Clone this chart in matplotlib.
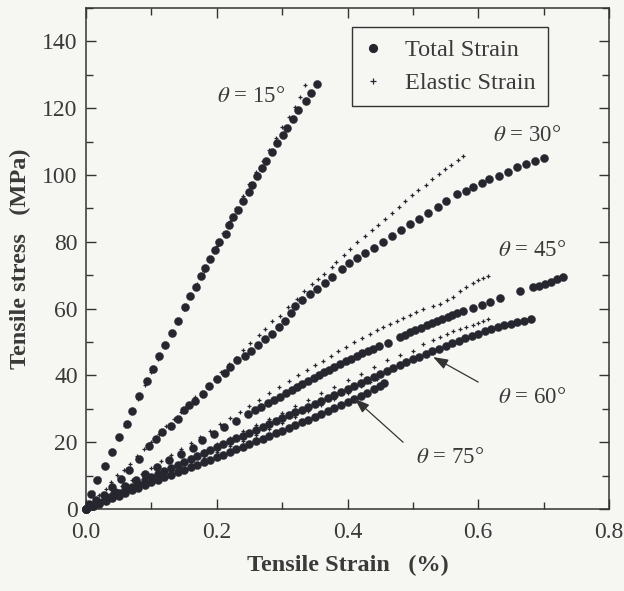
import matplotlib
matplotlib.use("Agg")
import matplotlib.pyplot as plt
from matplotlib.ticker import MultipleLocator, FormatStrFormatter
from matplotlib.lines import Line2D

# ---------------- data ----------------
t15_x = [0.0, 0.004, 0.0075, 0.0173, 0.0286, 0.040, 0.0505, 0.062, 0.071, 0.0816,
         0.0929, 0.103, 0.112, 0.121, 0.132, 0.140, 0.1515, 0.159, 0.168, 0.1755,
         0.182, 0.190, 0.197, 0.2035, 0.2135, 0.2185, 0.2255, 0.232, 0.2405, 0.249,
         0.254, 0.262, 0.269, 0.275, 0.2843, 0.2928, 0.301, 0.3068, 0.3163, 0.3237,
         0.336, 0.3445, 0.353]
t15_y = [0.0, 1.5, 4.6, 8.6, 12.9, 17.0, 21.5, 25.3, 29.3, 33.8,
         38.2, 42.0, 45.8, 49.0, 52.8, 56.3, 60.5, 63.8, 66.5, 69.8,
         72.2, 74.9, 77.4, 79.9, 82.2, 84.9, 87.4, 89.6, 92.1, 94.9,
         97.1, 99.7, 102.2, 104.2, 106.9, 109.7, 112.0, 114.0, 116.9, 119.4,
         122.2, 124.6, 127.1]
e15_x = [0.0, 0.01, 0.02, 0.03, 0.04, 0.05, 0.06, 0.07, 0.08, 0.09,
         0.10, 0.11, 0.12, 0.13, 0.14, 0.15, 0.16, 0.17, 0.18, 0.19,
         0.20, 0.21, 0.22, 0.23, 0.24, 0.25, 0.26, 0.27, 0.28, 0.29,
         0.30, 0.31, 0.32, 0.328, 0.335]
e15_y = [0.0, 5.0, 9.3, 13.2, 17.2, 21.1, 25.0, 29.0, 33.0, 37.0,
         41.0, 45.0, 48.8, 52.5, 56.3, 60.0, 63.8, 67.5, 71.3, 75.0,
         78.8, 82.5, 86.2, 90.0, 93.6, 97.3, 100.8, 104.2, 107.6, 111.0,
         114.3, 117.5, 120.5, 123.5, 127.0]

t30_x = [0.0, 0.006, 0.0155, 0.0275, 0.040, 0.053, 0.066, 0.081, 0.096, 0.107,
         0.117, 0.130, 0.140, 0.150, 0.158, 0.167, 0.179, 0.188, 0.200, 0.212,
         0.221, 0.231, 0.243, 0.252, 0.263, 0.274, 0.285, 0.295, 0.304, 0.313,
         0.319, 0.331, 0.343, 0.354, 0.366, 0.377, 0.392, 0.403, 0.415, 0.427,
         0.441, 0.454, 0.468, 0.482, 0.495, 0.509, 0.523, 0.538, 0.551, 0.567,
         0.582, 0.592, 0.605, 0.617, 0.631, 0.645, 0.659, 0.673, 0.687, 0.701]
t30_y = [0.0, 1.2, 2.6, 4.1, 6.6, 9.1, 11.6, 15.0, 19.0, 21.0,
         23.0, 25.0, 27.0, 29.5, 31.0, 32.4, 34.4, 36.7, 39.0, 40.6,
         42.5, 44.6, 45.9, 47.4, 49.1, 51.0, 52.5, 54.5, 56.4, 58.7,
         60.8, 62.6, 64.3, 66.0, 67.7, 69.4, 71.9, 73.7, 75.1, 76.7,
         78.2, 79.9, 81.8, 83.5, 85.2, 86.9, 88.6, 90.3, 92.2, 94.2,
         95.1, 96.3, 97.6, 98.7, 99.7, 100.8, 102.4, 103.3, 104.2, 105.0]
e30_x = [0.0, 0.01, 0.02, 0.030, 0.039, 0.048, 0.058, 0.068, 0.078, 0.089,
         0.100, 0.112, 0.123, 0.134, 0.146, 0.157, 0.167, 0.177, 0.187, 0.197,
         0.207, 0.218, 0.230, 0.240, 0.251, 0.264, 0.274, 0.284, 0.296, 0.309,
         0.322, 0.334, 0.345, 0.355, 0.364, 0.376, 0.383, 0.394, 0.404, 0.415,
         0.427, 0.437, 0.447, 0.457, 0.468, 0.479, 0.488, 0.499, 0.508, 0.520,
         0.530, 0.540, 0.549, 0.559, 0.5695, 0.577]
e30_y = [0.0, 2.2, 4.2, 6.1, 8.1, 10.1, 11.8, 13.6, 15.8, 18.0,
         20.2, 22.6, 24.8, 27.0, 29.0, 31.3, 33.5, 35.0, 36.8, 38.8,
         40.9, 43.3, 45.2, 47.5, 49.8, 52.0, 54.0, 56.2, 57.8, 60.5,
         63.0, 65.4, 67.3, 69.0, 70.4, 72.5, 74.0, 76.0, 77.9, 79.9,
         81.7, 83.6, 85.1, 86.9, 88.6, 90.4, 92.1, 93.9, 95.6, 97.1,
         98.7, 100.4, 101.7, 103.1, 104.4, 105.7]

t45_x = [0.0, 0.008, 0.018, 0.030, 0.045, 0.060, 0.076, 0.091, 0.109, 0.127,
         0.145, 0.163, 0.178, 0.196, 0.211, 0.230, 0.248, 0.259, 0.268, 0.278,
         0.287, 0.297, 0.306, 0.315, 0.323, 0.331, 0.340, 0.348, 0.356, 0.364,
         0.372, 0.380, 0.389, 0.397, 0.405, 0.414, 0.422, 0.431, 0.439, 0.448,
         0.462, 0.480, 0.488, 0.496, 0.504, 0.512, 0.521, 0.529, 0.537, 0.545,
         0.553, 0.560, 0.567, 0.577, 0.592, 0.605, 0.618, 0.633, 0.664, 0.684,
         0.693, 0.702, 0.711, 0.720, 0.730]
t45_y = [0.0, 1.0, 2.2, 3.5, 5.2, 6.9, 8.6, 10.6, 12.6, 14.6,
         16.6, 18.3, 20.6, 22.5, 24.6, 26.3, 28.4, 29.6, 30.6, 31.7,
         32.6, 33.6, 34.6, 35.6, 36.5, 37.4, 38.3, 39.1, 40.0, 40.9,
         41.7, 42.6, 43.5, 44.3, 45.0, 45.9, 46.6, 47.3, 48.0, 48.8,
         49.7, 51.6, 52.2, 53.0, 53.7, 54.3, 55.0, 55.7, 56.4, 57.0,
         57.6, 58.1, 58.6, 59.4, 60.2, 61.0, 61.9, 63.2, 65.4, 66.4,
         66.9, 67.5, 68.1, 68.8, 69.5]
e45_x = [0.0, 0.012, 0.025, 0.04, 0.055, 0.07, 0.085, 0.10, 0.115, 0.13,
         0.145, 0.16, 0.175, 0.19, 0.205, 0.22, 0.235, 0.25, 0.265, 0.28,
         0.295, 0.31, 0.325, 0.338, 0.350, 0.362, 0.374, 0.386, 0.398, 0.410,
         0.422, 0.434, 0.445, 0.455, 0.465, 0.475, 0.485, 0.495, 0.505, 0.516,
         0.531, 0.541, 0.552, 0.562, 0.572, 0.582, 0.592, 0.600, 0.607, 0.615]
e45_y = [0.0, 1.5, 3.1, 5.0, 6.8, 8.7, 10.5, 12.4, 14.3, 16.1,
         18.0, 19.8, 21.7, 23.5, 25.4, 27.2, 29.1, 30.9, 32.7, 34.6,
         36.4, 38.2, 40.0, 41.5, 43.0, 44.4, 45.8, 47.2, 48.6, 50.0,
         51.2, 52.4, 53.6, 54.5, 55.4, 56.3, 57.2, 58.0, 58.9, 59.8,
         60.8, 61.5, 62.5, 63.5, 65.2, 66.6, 67.8, 68.6, 69.2, 69.8]

t60_x = [0.0, 0.01, 0.02, 0.03, 0.04, 0.05, 0.06, 0.07, 0.08, 0.09,
         0.10, 0.11, 0.12, 0.13, 0.14, 0.15, 0.16, 0.17, 0.18, 0.19,
         0.20, 0.21, 0.22, 0.23, 0.24, 0.25, 0.26, 0.27, 0.28, 0.29,
         0.30, 0.31, 0.32, 0.33, 0.34, 0.35, 0.36, 0.37, 0.38, 0.39,
         0.40, 0.41, 0.42, 0.43, 0.44, 0.45, 0.46, 0.47, 0.48, 0.49,
         0.50, 0.51, 0.52, 0.53, 0.54, 0.55, 0.56, 0.57, 0.58, 0.59,
         0.60, 0.61, 0.62, 0.63, 0.64, 0.65, 0.66, 0.67, 0.68]
t60_y = [0.0, 1.0, 1.9, 2.9, 3.8, 4.8, 5.7, 6.7, 7.6, 8.6,
         9.5, 10.4, 11.3, 12.2, 13.1, 14.0, 14.9, 15.8, 16.7, 17.6,
         18.5, 19.4, 20.3, 21.2, 22.0, 22.9, 23.8, 24.6, 25.5, 26.3,
         27.2, 28.0, 28.9, 29.7, 30.6, 31.4, 32.3, 33.1, 34.0, 35.0,
         36.0, 36.9, 37.8, 38.7, 39.6, 40.5, 41.4, 42.3, 43.2, 44.0,
         44.8, 45.6, 46.4, 47.2, 48.0, 48.8, 49.6, 50.4, 51.1, 51.8,
         52.5, 53.2, 53.8, 54.4, 55.0, 55.5, 56.0, 56.4, 56.8]
e60_x = [0.0, 0.02, 0.04, 0.06, 0.08, 0.10, 0.12, 0.14, 0.16, 0.18,
         0.20, 0.22, 0.24, 0.26, 0.28, 0.30, 0.32, 0.34, 0.36, 0.38,
         0.40, 0.42, 0.44, 0.46, 0.48, 0.50, 0.516, 0.531, 0.541, 0.552,
         0.562, 0.572, 0.582, 0.592, 0.600, 0.608, 0.615]
e60_y = [0.0, 1.95, 3.9, 5.85, 7.8, 9.75, 11.7, 13.6, 15.6, 17.5,
         19.5, 21.4, 23.3, 25.1, 27.0, 28.8, 30.7, 32.6, 34.6, 36.5,
         38.5, 40.5, 42.5, 44.5, 46.0, 47.3, 49.3, 50.6, 51.5, 52.5,
         53.2, 53.8, 54.5, 55.2, 55.8, 56.3, 56.8]

t75_x = [0.0, 0.01, 0.02, 0.03, 0.04, 0.05, 0.06, 0.07, 0.08, 0.09,
         0.10, 0.11, 0.12, 0.13, 0.14, 0.15, 0.16, 0.17, 0.18, 0.19,
         0.20, 0.21, 0.22, 0.23, 0.24, 0.25, 0.26, 0.27, 0.28, 0.29,
         0.30, 0.31, 0.32, 0.33, 0.34, 0.35, 0.36, 0.37, 0.38, 0.39,
         0.40, 0.41, 0.42, 0.43, 0.44, 0.45, 0.456]
t75_y = [0.0, 0.8, 1.6, 2.4, 3.2, 4.0, 4.8, 5.6, 6.4, 7.2,
         8.0, 8.8, 9.5, 10.3, 11.0, 11.8, 12.5, 13.3, 14.0, 14.8,
         15.5, 16.3, 17.1, 17.9, 18.7, 19.5, 20.3, 21.1, 21.9, 22.7,
         23.5, 24.3, 25.1, 25.9, 26.7, 27.5, 28.4, 29.2, 30.1, 31.0,
         31.9, 32.8, 33.8, 34.8, 35.8, 36.9, 37.6]
e75_x = [0.0, 0.02, 0.04, 0.06, 0.08, 0.10, 0.12, 0.14, 0.16, 0.18,
         0.20, 0.22, 0.24, 0.26, 0.28, 0.30, 0.32, 0.34, 0.36, 0.38,
         0.40, 0.42, 0.435, 0.445]
e75_y = [0.0, 1.7, 3.4, 5.1, 6.8, 8.5, 10.2, 11.9, 13.6, 15.3,
         17.0, 18.8, 20.5, 22.3, 24.0, 25.8, 27.6, 29.4, 31.2, 33.0,
         34.8, 36.8, 38.0, 39.0]

totals = [(t15_x, t15_y), (t30_x, t30_y), (t45_x, t45_y), (t60_x, t60_y), (t75_x, t75_y)]
elastics = [(e15_x, e15_y), (e30_x, e30_y), (e45_x, e45_y), (e60_x, e60_y), (e75_x, e75_y)]

angle_labels = ["15", "30", "45", "60", "75"]
label_pos = [(0.252, 123.6), (0.675, 111.7), (0.682, 77.3), (0.682, 33.3), (0.557, 15.3)]

legend_labels = ["Total Strain", "Elastic Strain"]
xticks = [0.0, 0.2, 0.4, 0.6, 0.8]
yticks = [0, 20, 40, 60, 80, 100, 120, 140]

# ---------------- style ----------------
plt.rcParams['font.family'] = ['Liberation Serif', 'DejaVu Serif']
plt.rcParams['mathtext.fontset'] = 'stix'

ink = '#26262f'
txt = '#3a3a3a'
bg = '#f6f6f3'

fig = plt.figure(figsize=(6.24, 5.91), dpi=100, facecolor=bg)
ax = fig.add_axes([86 / 624, 82 / 591, 523 / 624, 501 / 591], facecolor=bg)

for xs, ys in totals:
    ax.plot(xs, ys, linestyle='none', marker='o', markersize=5.8,
            markerfacecolor=ink, markeredgecolor=ink, markeredgewidth=0.3,
            clip_on=False, zorder=3)
for xs, ys in elastics:
    ax.plot(xs, ys, linestyle='none', marker='+', markersize=3.4,
            markeredgewidth=0.9, color=ink, clip_on=False, zorder=4)

ax.set_xlim(0, 0.8)
ax.set_ylim(0, 150)
ax.set_xticks(xticks)
ax.set_yticks(yticks)
ax.xaxis.set_major_formatter(FormatStrFormatter('%.1f'))
ax.xaxis.set_minor_locator(MultipleLocator(0.1))
ax.yaxis.set_minor_locator(MultipleLocator(10))
ax.tick_params(which='both', direction='in', top=True, right=True,
               color='#333333', width=1.0)
ax.tick_params(which='major', length=7, labelsize=17, labelcolor=txt)
ax.tick_params(axis='x', which='major', pad=9)
ax.tick_params(axis='y', which='major', pad=6)
ax.tick_params(which='minor', length=5)
for s in ax.spines.values():
    s.set_color('#333333')
    s.set_linewidth(1.1)

ax.set_xlabel("Tensile Strain   (%)", fontsize=17.5, fontweight='bold',
              color=txt, labelpad=9)
ax.set_ylabel("Tensile stress   (MPa)", fontsize=17.5, fontweight='bold',
              color=txt, labelpad=8)

for lab, (lx, ly) in zip(angle_labels, label_pos):
    ax.text(lx, ly, r"$\theta$ = " + lab + "°", fontsize=16.5, color=txt,
            ha='center', va='center')

arrow_kw = dict(arrowstyle='-|>,head_length=0.9,head_width=0.32',
                color='#333333', lw=0.9, shrinkA=0, shrinkB=0)
ax.annotate("", xy=(0.531, 45.5), xytext=(0.600, 38.0), arrowprops=arrow_kw)
ax.annotate("", xy=(0.411, 33.0), xytext=(0.485, 20.0), arrowprops=arrow_kw)

handles = [Line2D([], [], linestyle='none', marker='o', markersize=5.6,
                  color=ink),
           Line2D([], [], linestyle='none', marker='+', markersize=4,
                  markeredgewidth=0.9, color=ink)]
leg = ax.legend(handles, legend_labels, loc='upper right',
                bbox_to_anchor=(0.883, 0.962), borderaxespad=0,
                fontsize=17.5, frameon=True, fancybox=False, framealpha=1,
                edgecolor='#333333', facecolor=bg, handlelength=0.8,
                handletextpad=0.9, borderpad=0.5, labelspacing=0.45)
leg.get_frame().set_linewidth(1.0)
for t in leg.get_texts():
    t.set_color(txt)

fig.savefig("out.png", dpi=100, facecolor=bg)
